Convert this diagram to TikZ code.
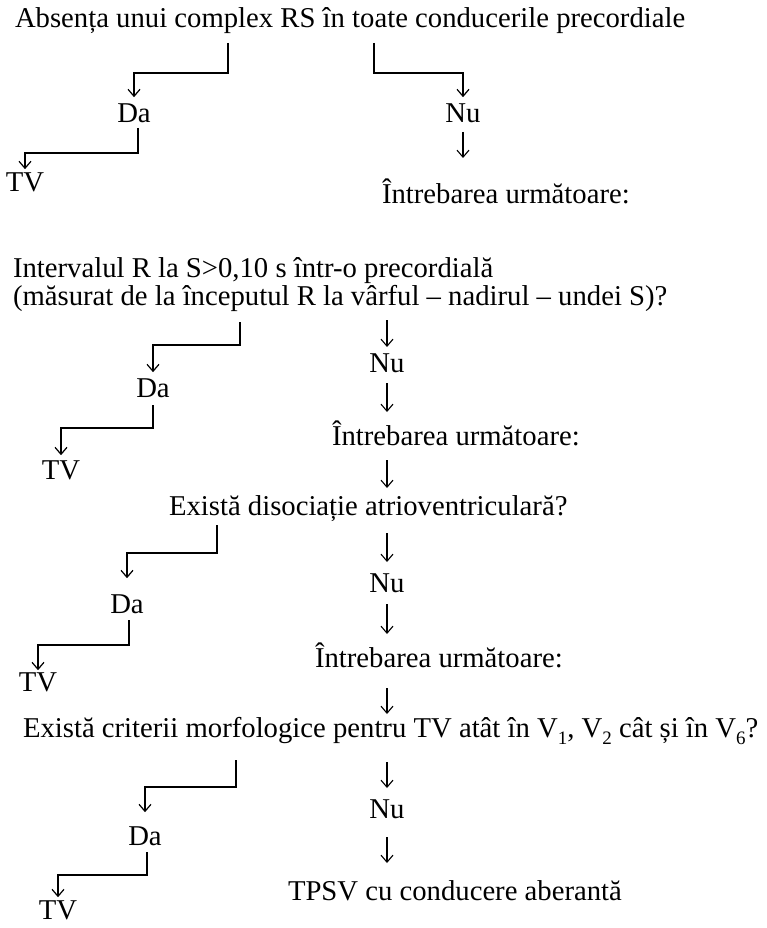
\documentclass[tikz,border=0pt]{standalone}
\usepackage{fontspec}
\setmainfont{Liberation Serif}
\usetikzlibrary{arrows.meta,calc}
\newcommand{\mysubidx}[1]{\raisebox{-7pt}{\fontsize{19}{19}\selectfont #1}}
\begin{document}
\begin{tikzpicture}[x=1pt,y=-1pt,
  txt/.style={inner sep=0pt, outer sep=0pt, font=\fontsize{28.7}{32}\selectfont},
  lnk/.style={line width=1.2pt, -{Straight Barb[length=7pt,width=12pt,line width=1.2pt]}},
  dwn/.style={line width=1.1pt, -{Straight Barb[length=7pt,width=12pt,line width=1.1pt]}}
]
\useasboundingbox (0,0) rectangle (766,928);

% ---------- block 1 ----------
\node[txt,anchor=base west] (q1) at (15,28) {Absența unui complex RS în toate conducerile precordiale};
\node[txt,anchor=base] (da1) at (134,123) {Da};
\node[txt,anchor=base] (nu1) at (463,123) {Nu};
\node[txt,anchor=base] (tv1) at (25,191) {TV};
\node[txt,anchor=base west] (in1) at (382,203) {Întrebarea următoare:};

\coordinate (s1) at (228,43); \coordinate (k1) at (134,73);
\draw[lnk, shorten >=7pt] (s1) |- (k1) -- (da1.north);
\coordinate (r1) at (374,43); \coordinate (m1) at (463,73);
\draw[lnk, shorten >=7pt] (r1) |- (m1) -- (nu1.north);
\coordinate (j1) at (25,153);
\draw[lnk, shorten >=3pt] ($(da1.base)+(4,5)$) |- (j1) -- (tv1.north);
\draw[dwn] ($(nu1.base)+(0,9)$) -- ($(nu1.base)+(0,35)$);

% ---------- block 2 ----------
\node[txt,anchor=base west] (q2a) at (13,277) {Intervalul R la S>0,10 s într-o precordială};
\node[txt,anchor=base west] (q2b) at (13,305) {(măsurat de la începutul R la vârful – nadirul – undei S)?};
\node[txt,anchor=base] (da2) at (153,397) {Da};
\node[txt,anchor=base] (tv2) at (61,479) {TV};
\node[txt,anchor=base] (nu2) at (387,372) {Nu};
\node[txt,anchor=base west] (in2) at (332,445) {Întrebarea următoare:};

\coordinate (s2) at (240,322); \coordinate (k2) at (153,345);
\draw[lnk, shorten >=6pt] (s2) |- (k2) -- (da2.north);
\coordinate (j2) at (61,428);
\draw[lnk, shorten >=5pt] ($(da2.base)+(0,8)$) |- (j2) -- (tv2.north);
\draw[dwn] ($(nu2.base |- q2b.base)+(0,15)$) -- ($(nu2.base |- q2b.base)+(0,42)$);
\draw[dwn] ($(nu2.base)+(0,11)$) -- ($(nu2.base)+(0,40)$);
\draw[dwn] ($(nu2.base |- in2.base)+(0,15)$) -- ($(nu2.base |- in2.base)+(0,43)$);

% ---------- block 3 ----------
\node[txt,anchor=base west] (q3) at (169,515) {Există disociație atrioventriculară?};
\node[txt,anchor=base] (da3) at (127,613) {Da};
\node[txt,anchor=base] (tv3) at (38,691) {TV};
\node[txt,anchor=base] (nu3) at (387,592) {Nu};
\node[txt,anchor=base west] (in3) at (315,667) {Întrebarea următoare:};

\coordinate (s3) at (217,525); \coordinate (k3) at (127,553);
\draw[lnk, shorten >=16pt] (s3) |- (k3) -- (da3.north);
\coordinate (j3) at (38,645);
\draw[lnk, shorten >=2pt] ($(da3.base)+(2,7)$) |- (j3) -- (tv3.north);
\draw[dwn] ($(nu3.base |- q3.base)+(0,18)$) -- ($(nu3.base |- q3.base)+(0,47)$);
\draw[dwn] ($(nu3.base)+(0,12)$) -- ($(nu3.base)+(0,42)$);
\draw[dwn] ($(nu3.base |- in3.base)+(0,21)$) -- ($(nu3.base |- in3.base)+(0,47)$);

% ---------- block 4 ----------
\node[txt,anchor=base west] (q4) at (23,737) {Există criterii morfologice pentru TV atât în V\mysubidx{1}, V\mysubidx{2} cât și în V\mysubidx{6}?};
\node[txt,anchor=base] (da4) at (145,845) {Da};
\node[txt,anchor=base] (tv4) at (58,919) {TV};
\node[txt,anchor=base] (nu4) at (387,818) {Nu};
\node[txt,anchor=base west] (tp) at (288,900) {TPSV cu conducere aberantă};

\coordinate (s4) at (236,760); \coordinate (k4) at (145,787);
\draw[lnk, shorten >=14pt] (s4) |- (k4) -- (da4.north);
\coordinate (j4) at (58,875);
\draw[lnk, shorten >=3pt] ($(da4.base)+(2,7)$) |- (j4) -- (tv4.north);
\draw[dwn] ($(nu4.base |- q4.base)+(0,25)$) -- ($(nu4.base |- q4.base)+(0,51)$);
\draw[dwn] ($(nu4.base)+(0,19)$) -- ($(nu4.base)+(0,45)$);
\end{tikzpicture}
\end{document}
